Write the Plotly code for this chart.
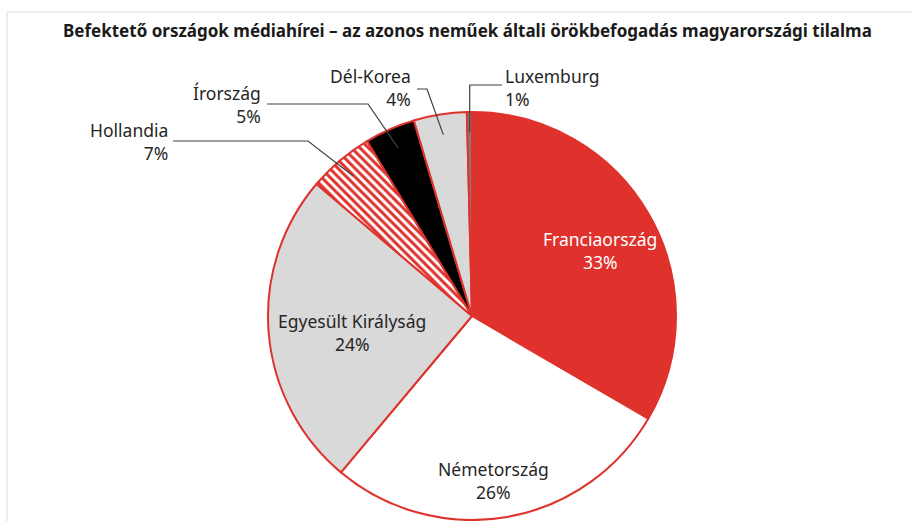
import math
import plotly.graph_objects as go

# ---- data ----
countries = ["Franciaország", "Németország", "Egyesült Királyság", "Hollandia",
             "Írország", "Dél-Korea", "Luxemburg"]
# slice sizes as drawn in the picture
slice_sizes = [33.4, 27.7, 25.1, 5.2, 4.0, 4.2, 0.4]
# percentages as printed on the data labels
label_pct = [33, 26, 24, 7, 5, 4, 1]
title_text = "Befektető országok médiahírei – az azonos neműek általi örökbefogadás magyarországi tilalma"

# ---- styles / layout ----
W, H = 912, 521
RED = "#E0322C"
colors = [RED, "#FFFFFF", "#D9D9D9", "#FFFFFF", "#000000", "#D9D9D9", "#7F7F7F"]
patterns = ["", "", "", "\\", "", "", ""]
CX, CY, R = 472, 316, 204
TEXT = "#262626"
FONT = "Noto Sans"
LABEL_SIZE = 17.5


def px(x):
    return x / W


def py(y):
    return 1 - y / H


fig = go.Figure(go.Pie(
    labels=countries,
    values=slice_sizes,
    customdata=label_pct,
    sort=False,
    direction="clockwise",
    rotation=0,
    textinfo="none",
    hovertemplate="%{label}: %{customdata}%<extra></extra>",
    marker=dict(colors=colors, line=dict(color=RED, width=2),
                pattern=dict(shape=patterns, fgcolor=RED, bgcolor="#FFFFFF",
                             size=6, solidity=0.5)),
    domain=dict(x=[px(CX - R), px(CX + R)], y=[py(CY + R), py(CY - R)]),
    showlegend=False,
))

# label placements (pixel positions of label blocks)
label_pos = {
    "Franciaország": (600, 250, "center", "white"),
    "Németország": (493, 480, "center", TEXT),
    "Egyesült Királyság": (352, 332, "center", TEXT),
    "Hollandia": (170, 141.5, "right", TEXT),
    "Írország": (263, 104.5, "right", TEXT),
    "Dél-Korea": (413, 87.5, "right", TEXT),
    "Luxemburg": (503, 87.5, "left", TEXT),
}
# leader line elbows: (start x, y, elbow x)
leaders = {
    "Hollandia": (173, 141, 308),
    "Írország": (267, 104, 368),
    "Dél-Korea": (417, 89, 427),
    "Luxemburg": (502, 85, None),
}

annotations = []
shapes = []
total = sum(slice_sizes)
cum = 0
for name, v, pct in zip(countries, slice_sizes, label_pct):
    mid = (cum + v / 2) / total * 2 * math.pi
    cum += v
    x, y, anchor, col = label_pos[name]
    annotations.append(dict(
        x=px(x), y=py(y), xref="paper", yref="paper",
        text=f"{name}<br>{pct}%", showarrow=False,
        xanchor=anchor, yanchor="middle", align=anchor,
        font=dict(family=FONT, size=LABEL_SIZE, color=col)))
    if name in leaders:
        ax = CX + 0.9 * R * math.sin(mid)
        ay = CY - 0.9 * R * math.cos(mid)
        sx, sy, ex = leaders[name]
        if ex is None:
            ex = ax
        path = f"M {px(sx)} {py(sy)} L {px(ex)} {py(sy)} L {px(ax)} {py(ay)}"
        shapes.append(dict(type="path", path=path, xref="paper", yref="paper",
                           line=dict(color="#404040", width=1.2)))

annotations.append(dict(
    x=px(467), y=py(30), xref="paper", yref="paper", text=f"<b>{title_text}</b>",
    showarrow=False, xanchor="center", yanchor="middle",
    font=dict(family=FONT, size=17, color="#1a1a1a")))

# outer frame
shapes.append(dict(type="rect", xref="paper", yref="paper",
                   x0=px(7), x1=1.05, y0=-0.05, y1=py(12),
                   line=dict(color="#D9D9D9", width=1), layer="below"))

fig.update_layout(
    width=W, height=H,
    margin=dict(l=0, r=0, t=0, b=0),
    paper_bgcolor="white", plot_bgcolor="white",
    annotations=annotations, shapes=shapes,
)

fig.write_html("out.html",
               config={"displayModeBar": False},
               post_script="document.body.style.margin='0';document.body.style.overflow='hidden';")
